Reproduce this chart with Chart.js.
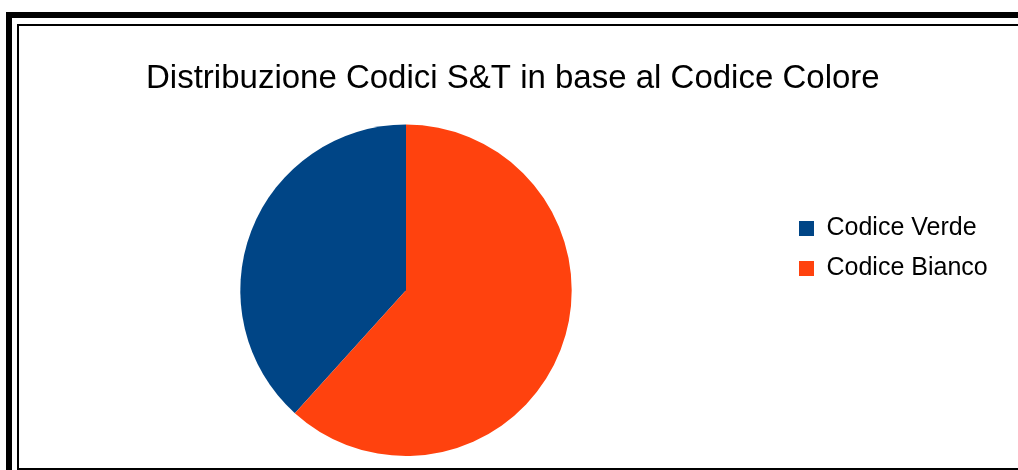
<!DOCTYPE html>
<html>
<head>
<meta charset="utf-8">
<script src="https://cdn.jsdelivr.net/npm/chart.js@4/dist/chart.umd.min.js"></script>
<style>
  html, body { margin: 0; padding: 0; background: #fff; }
  #wrap { position: relative; width: 1018px; height: 470px; overflow: hidden; background: #fff; }
  .rule { position: absolute; background: #000; }
  #pie { position: absolute; left: 0; top: 0; }
</style>
</head>
<body>
<div id="wrap">
  <!-- outer heavy frame (top and left) -->
  <div class="rule" style="left:6px;top:12px;width:1012px;height:6px"></div>
  <div class="rule" style="left:6px;top:12px;width:6px;height:458px"></div>
  <!-- inner thin frame -->
  <div class="rule" style="left:17px;top:24px;width:1001px;height:2px"></div>
  <div class="rule" style="left:17px;top:24px;width:2px;height:446px"></div>
  <div class="rule" style="left:17px;top:468px;width:1001px;height:2px"></div>
  <canvas id="pie" width="1018" height="470"></canvas>
</div>
<script>
// Categories and their shares of the total
const categories = ['Codice Verde', 'Codice Bianco'];
const shares = [38.3, 61.7];
const sliceColors = ['#004586', '#ff420e'];
const chartTitle = 'Distribuzione Codici S&T in base al Codice Colore';

const FAMILY = "'Liberation Sans', Arial, sans-serif";
const LEGEND_SIZE = 25;
const LEGEND_PAD = 15;
const BOX = 15;

// Size the legend column so the pie sits centred in the space left of it
const probe = document.createElement('canvas').getContext('2d');
probe.font = LEGEND_SIZE + 'px ' + FAMILY;
const longest = Math.max(...categories.map(c => probe.measureText(c).width));
const legendWidth = LEGEND_PAD + BOX + LEGEND_SIZE / 2 + longest + 10;
const legendLeft = 784;
const pieCenterX = 406;
const padLeft = 2 * pieCenterX - legendLeft;
const padRight = 1018 - legendLeft - legendWidth;

const total = shares.reduce((a, b) => a + b, 0);

new Chart(document.getElementById('pie'), {
  type: 'pie',
  data: {
    labels: categories,
    datasets: [{
      data: shares,
      backgroundColor: sliceColors,
      borderWidth: 0,
      hoverOffset: 0
    }]
  },
  options: {
    responsive: false,
    animation: false,
    devicePixelRatio: 1,
    // last slice ends at 12 o'clock, running clockwise from there
    rotation: 360 * shares[1] / total,
    layout: { padding: { top: 41, bottom: 14, left: padLeft, right: padRight } },
    plugins: {
      title: {
        display: true,
        text: chartTitle,
        color: '#000',
        font: { family: FAMILY, size: 33, weight: 'normal' },
        padding: { top: 18, bottom: 26 }
      },
      legend: {
        position: 'right',
        align: 'center',
        labels: {
          boxWidth: BOX,
          boxHeight: BOX,
          padding: LEGEND_PAD,
          color: '#000',
          font: { family: FAMILY, size: LEGEND_SIZE }
        }
      },
      tooltip: { enabled: false }
    }
  }
});
</script>
</body>
</html>
